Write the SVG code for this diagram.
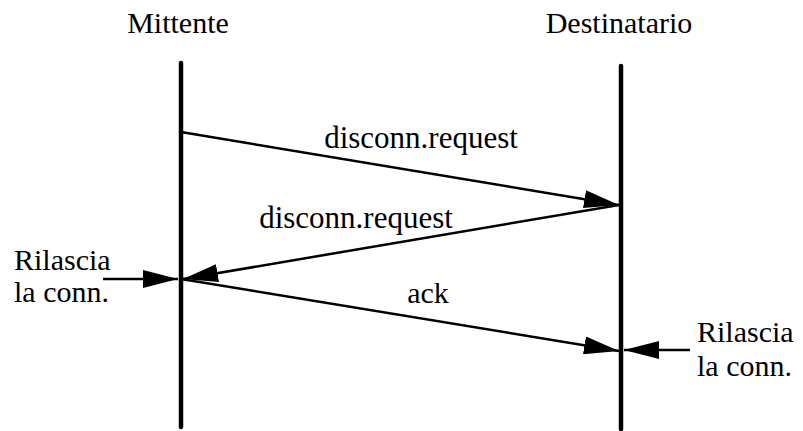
<svg xmlns="http://www.w3.org/2000/svg" width="803" height="431" viewBox="0 0 803 431">
<style>
.t{font-family:'Liberation Serif','Times New Roman','DejaVu Serif',serif;font-size:30px;fill:#000}
.m{font-size:31px}
.life{stroke:#000;stroke-width:4.5;stroke-linecap:round;fill:none}
.msg{stroke:#000;stroke-width:2.5;fill:none}
</style>
<defs>
<marker id="ah" markerUnits="userSpaceOnUse" markerWidth="36" markerHeight="18" refX="35" refY="9" orient="auto">
<path d="M0,0 L35,9 L0,18 Z" fill="#000"/>
</marker>
</defs>
<rect width="803" height="431" fill="#fff"/>
<g id="mittente">
<text class="t" x="178" y="33" text-anchor="middle">Mittente</text>
<line class="life" x1="181" y1="63" x2="181" y2="427"/>
</g>
<g id="destinatario">
<text class="t" x="619" y="33" text-anchor="middle">Destinatario</text>
<line class="life" x1="621" y1="66" x2="621" y2="429"/>
</g>
<g id="rilascia-left">
<text class="t" x="14" y="270">Rilascia</text>
<text class="t" x="14" y="302">la conn.</text>
</g>
<g id="rilascia-right">
<text class="t" x="697" y="342">Rilascia</text>
<text class="t" x="697" y="376">la conn.</text>
</g>
<g id="connectors">
<line class="msg" x1="181" y1="132" x2="619" y2="205" marker-end="url(#ah)"/>
<line class="msg" x1="619" y1="205" x2="183" y2="279" marker-end="url(#ah)"/>
<line class="msg" x1="181" y1="279" x2="619" y2="351" marker-end="url(#ah)"/>
<line class="msg" x1="103" y1="279" x2="178" y2="279" marker-end="url(#ah)"/>
<line class="msg" x1="690" y1="350" x2="624" y2="350" marker-end="url(#ah)"/>
<text class="t m" x="421" y="148" text-anchor="middle">disconn.request</text>
<text class="t m" x="356" y="228" text-anchor="middle">disconn.request</text>
<text class="t" x="428" y="303" text-anchor="middle">ack</text>
</g>
</svg>
